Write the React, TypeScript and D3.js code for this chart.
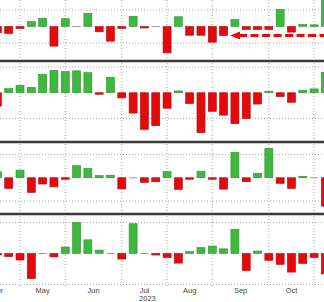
import React from 'react';
import * as d3 from 'd3';

const W = 324;
const H = 302;

// Weekly (Friday) observations
const weeks = [
  '2023-04-21', '2023-04-28',
  '2023-05-05', '2023-05-12', '2023-05-19', '2023-05-26',
  '2023-06-02', '2023-06-09', '2023-06-16', '2023-06-23', '2023-06-30',
  '2023-07-07', '2023-07-14', '2023-07-21', '2023-07-28',
  '2023-08-04', '2023-08-11', '2023-08-18', '2023-08-25',
  '2023-09-01', '2023-09-08', '2023-09-15', '2023-09-22', '2023-09-29',
  '2023-10-06', '2023-10-13', '2023-10-20', '2023-10-27',
  '2023-11-03', '2023-11-10',
];

const panel1 = [
  -0.38, -0.42, -0.12, 0.3, 0.5, -1.19, 0.47, 0.0, 0.79, -0.32,
  -0.89, -0.12, 0.62, -0.06, 0.0, -1.6, 0.59, -0.53, -0.53, -0.95,
  -0.55, 0.42, -0.18, -0.18, -0.18, 1.03, -0.34, 0.12, 0.1, 1.8,
];
const panel2 = [
  -0.52, 0.16, 0.29, 0.21, 0.72, 0.87, 0.82, 0.85, 0.78, -0.03,
  0.6, -0.2, -0.79, -1.42, -1.28, -0.6, 0.07, -0.42, -1.55, -0.72,
  -0.87, -1.2, -1.0, -0.44, 0.06, -0.15, -0.37, 0.1, 0.15, 0.8,
];
const panel3 = [
  0.26, -0.46, 0.33, -0.63, -0.27, -0.39, -0.05, 0.52, 0.4, 0.09,
  0.11, -0.48, 0.0, -0.2, -0.17, 0.26, -0.5, -0.05, 0.28, -0.04,
  -0.49, 1.09, -0.17, 0.19, 1.26, -0.24, -0.46, 0.04, 0.0, -1.22,
];
const panel4 = [
  -0.04, -0.1, -0.21, -0.81, 0.0, -0.11, 0.21, 1.0, 0.44, 0.11,
  0.0, -0.18, 0.96, 0.0, -0.04, -0.13, -0.31, 0.06, 0.19, 0.24,
  0.15, 0.78, -0.55, 0.08, -0.22, -0.35, -0.6, -0.32, -0.13, -0.66,
];

const gridTicks = [-1, 1];
const yearLabel = '2023';
const arrowLevel = -0.55;
const arrowFrom = '2023-09-12';

const GREEN = '#3fb83f';
const GREEN_EDGE = '#2c8f2c';
const RED = '#e6090c';
const RED_EDGE = '#b30608';
const GRID = '#aaaaaa';
const SEP = '#3a3a3a';

const parse = d3.timeParse('%Y-%m-%d');
const dates = weeks.map((d) => parse(d) as Date);

const x = d3
  .scaleTime()
  .domain([dates[0], dates[dates.length - 1]])
  .range([-2.6, 325.4]);

const BAR_W = 8;

const panels = [
  { values: panel1, gridTop: 10, gridBottom: 43 },
  { values: panel2, gridTop: 67, gridBottom: 118.5 },
  { values: panel3, gridTop: 154.5, gridBottom: 201 },
  { values: panel4, gridTop: 222.5, gridBottom: 284.5 },
];
const separators = [61, 142, 214];

const monthStarts = d3.timeMonth.range(new Date(2023, 3, 1), new Date(2023, 11, 1));
const firstFridays = monthStarts.map((m) => d3.timeFriday.ceil(m));
const monthFmt = d3.timeFormat('%b');

export default function App() {
  const scales = panels.map((p) =>
    d3.scaleLinear().domain([-1, 1]).range([p.gridBottom, p.gridTop])
  );
  const labels = firstFridays.slice(0, -1).map((f, i) => ({
    text: monthFmt(monthStarts[i]),
    x: (x(f) + x(firstFridays[i + 1])) / 2,
    month: monthStarts[i].getMonth(),
  }));
  const julLabel = labels.find((l) => l.month === 6)!;
  const arrowX = x(parse(arrowFrom) as Date);
  const arrowY = scales[0](arrowLevel);

  return (
    <svg
      width={W}
      height={H}
      style={{ position: 'absolute', left: 0, top: 0, background: '#fff' }}
      fontFamily="'Liberation Sans', Arial, sans-serif"
    >
      <rect x={0} y={0} width={W} height={H} fill="#fff" />
      {/* vertical month grid lines */}
      {firstFridays.map((f, i) => (
        <line
          key={'v' + i}
          x1={x(f)}
          x2={x(f)}
          y1={0}
          y2={288}
          stroke={GRID}
          strokeWidth={1}
          strokeDasharray="1,2"
        />
      ))}
      {/* horizontal grid lines */}
      {scales.map((s, pi) =>
        gridTicks.map((t) => (
          <line
            key={'h' + pi + t}
            x1={0}
            x2={W}
            y1={s(t)}
            y2={s(t)}
            stroke={GRID}
            strokeWidth={1}
            strokeDasharray="1,2"
          />
        ))
      )}
      {/* bars */}
      {panels.map((p, pi) => {
        const s = scales[pi];
        const y0 = s(0);
        return p.values.map((v, i) => {
          const y1 = s(v);
          const h = Math.abs(y1 - y0);
          const cx = x(dates[i]);
          if (v === 0) {
            return (
              <rect key={pi + '-' + i} x={cx - BAR_W / 2} y={y0 - 0.5} width={BAR_W} height={1} fill="#9a9a9a" />
            );
          }
          const hh = Math.max(h, 1.5);
          return (
            <rect
              key={pi + '-' + i}
              x={cx - BAR_W / 2}
              y={v > 0 ? y0 - hh : y0}
              width={BAR_W}
              height={hh}
              fill={v > 0 ? GREEN : RED}
              stroke={v > 0 ? GREEN_EDGE : RED_EDGE}
              strokeWidth={0.6}
            />
          );
        });
      })}
      {/* annotation arrow */}
      <line
        x1={arrowX + 9}
        x2={W}
        y1={arrowY}
        y2={arrowY}
        stroke={RED}
        strokeWidth={3}
        strokeDasharray="8,3.5"
      />
      <path
        d={`M${arrowX},${arrowY} L${arrowX + 10},${arrowY - 4} L${arrowX + 10},${arrowY + 4} Z`}
        fill={RED}
      />
      {/* panel separators */}
      {separators.map((y, i) => (
        <line key={'s' + i} x1={0} x2={W} y1={y} y2={y} stroke={SEP} strokeWidth={2.6} />
      ))}
      {/* month labels */}
      {labels.map((l, i) => (
        <text key={'m' + i} x={l.x} y={293} fontSize={7.5} fill="#444" textAnchor="middle">
          {l.text}
        </text>
      ))}
      <text x={julLabel.x + 3} y={301} fontSize={7.5} fill="#444" textAnchor="middle">
        {yearLabel}
      </text>
    </svg>
  );
}
